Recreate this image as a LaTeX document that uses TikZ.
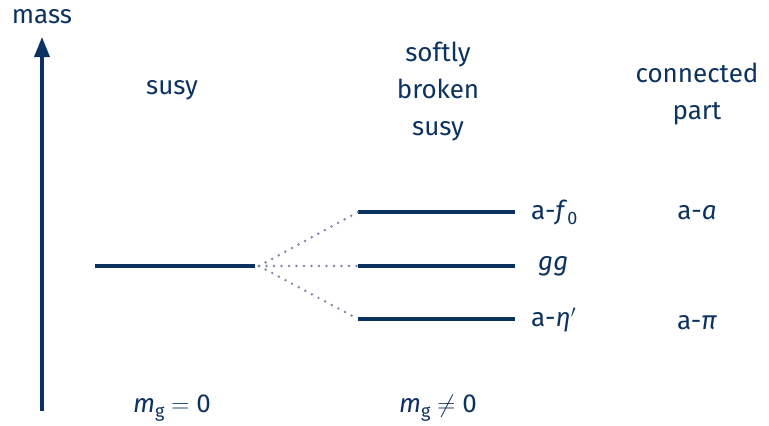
\documentclass[tikz,border=0pt]{standalone}
\usepackage{fontspec}
\setmainfont{Fira Sans}
\setsansfont{Fira Sans}
\usetikzlibrary{arrows.meta}
\definecolor{navy}{RGB}{12,50,95}
\definecolor{dotc}{RGB}{125,133,170}
\newcommand{\sbs}[1]{\raisebox{-5pt}{\fontsize{18}{18}\selectfont #1}}
\tikzset{
  lbl/.style={text=navy,font=\fontsize{26}{37}\selectfont,inner sep=0pt,align=center},
  level/.style={draw=navy,line width=3.5pt},
  split/.style={draw=dotc,line width=2.7pt,dash pattern=on 0pt off 7.5pt,line cap=round},
}
\begin{document}
\begin{tikzpicture}[x=1pt,y=-1pt]
\useasboundingbox (0,0) rectangle (769,426);
\coordinate (a0) at (42,411);
\coordinate (a1) at (42,37);
\draw[navy,line width=3.5pt,-{Triangle[length=20pt,width=15pt]}] (a0) -- (a1);
\node[lbl] (mass) at (42,17) {mass};
\node[lbl] (susy) at (172,90) {susy};
\node[lbl] (soft) at (438,92) {softly\\broken\\susy};
\node[lbl] (conn) at (697,94) {connected\\part};
% levels
\coordinate (L0a) at (95,266); \coordinate (L0b) at (255,266);
\coordinate (S) at (259,266);
\coordinate (T) at (358,212); \coordinate (Tb) at (515,212);
\coordinate (M) at (358,266); \coordinate (Mb) at (515,266);
\coordinate (B) at (358,319); \coordinate (Bb) at (515,319);
\draw[level] (L0a) -- (L0b);
\draw[level] (T) -- (Tb);
\draw[level] (M) -- (Mb);
\draw[level] (B) -- (Bb);
\draw[split] (S) -- (T);
\draw[split] (S) -- (M);
\draw[split] (S) -- (B);
\node[lbl,anchor=west] (f0) at (531,213) {a-\textit{f}\sbs{0}};
\node[lbl,anchor=west] (gg) at (538,266) {\textit{gg}};
\node[lbl,anchor=west] (eta) at (531,320) {a-\textit{η}$'$};
\node[lbl] (aa) at (697,213) {a-\textit{a}};
\node[lbl] (api) at (697,323) {a-\textit{π}};
\node[lbl] (m0) at (172,408) {\textit{m}\sbs{g} $=$ 0};
\node[lbl] (m1) at (438,408) {\textit{m}\sbs{g} $\neq$ 0};
\end{tikzpicture}
\end{document}
